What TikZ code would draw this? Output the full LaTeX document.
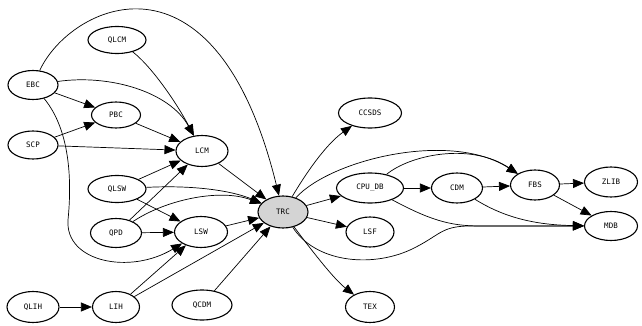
\documentclass[tikz,border=0pt]{standalone}
\usepackage{fontspec}
\newfontfamily\lblfont{DejaVu Sans Mono}
\usetikzlibrary{shapes.geometric,arrows.meta}
\tikzset{
  nd/.style={ellipse,draw=black,line width=1.1pt,inner sep=0pt,minimum width=50pt,minimum height=29pt,font=\lblfont\fontsize{7.5}{8}\selectfont},
  hl/.style={nd,fill=black!17},
  ed/.style={draw=black,line width=0.7pt,-{Triangle[length=11pt,width=9pt]}}
}
\begin{document}
\begin{tikzpicture}[x=1pt,y=-1pt]
\useasboundingbox (0,0) rectangle (642,326);
\node[nd] (EBC) at (33,85) {EBC};
\node[nd,minimum width=58pt,minimum height=27pt] (QLCM) at (117,40) {QLCM};
\node[nd,minimum width=49pt,minimum height=26pt] (PBC) at (116,115) {PBC};
\node[nd,minimum height=28pt] (SCP) at (33,145) {SCP};
\node[nd,minimum width=52pt,minimum height=31pt] (LCM) at (202,151) {LCM};
\node[nd,minimum width=58pt,minimum height=27pt] (QLSW) at (117,189) {QLSW};
\node[hl,minimum width=50pt,minimum height=32pt] (TRC) at (283,212) {TRC};
\node[nd,minimum width=51pt] (QPD) at (116,233) {QPD};
\node[nd,minimum width=53pt,minimum height=31pt] (LSW) at (201,232) {LSW};
\node[nd,minimum width=52pt,minimum height=31pt] (QLIH) at (33,307) {QLIH};
\node[nd,minimum width=47pt,minimum height=31pt] (LIH) at (116,307) {LIH};
\node[nd,minimum width=60pt,minimum height=30pt] (QCDM) at (202,305) {QCDM};
\node[nd,minimum width=63pt,minimum height=30pt] (CCSDS) at (370,113) {CCSDS};
\node[nd,minimum width=67pt,minimum height=30pt] (CPUDB) at (370,188) {CPU\_DB};
\node[nd,minimum width=51pt,minimum height=30pt] (CDM) at (457,188) {CDM};
\node[nd,minimum width=49pt,minimum height=30pt] (FBS) at (535,185) {FBS};
\node[nd,minimum width=53pt,minimum height=30pt] (ZLIB) at (611,182) {ZLIB};
\node[nd,minimum width=53pt,minimum height=29pt] (MDB) at (611,226) {MDB};
\node[nd,minimum width=48pt,minimum height=30pt] (LSF) at (370,232) {LSF};
\node[nd,minimum width=49pt,minimum height=31pt] (TEX) at (370,307) {TEX};

\draw[ed] (EBC) .. controls (70,5) and (215,-65) .. (TRC);
\draw[ed] (EBC) -- (PBC);
\draw[ed] (EBC) .. controls (110,74) and (170,92) .. (LCM);
\draw[ed] (EBC) .. controls (70,130) and (72,180) .. (68,220) .. controls (65,262) and (130,275) .. (LSW);
\draw[ed] (QLCM) .. controls (150,65) and (175,100) .. (LCM);
\draw[ed] (PBC) -- (LCM);
\draw[ed] (SCP) -- (PBC);
\draw[ed] (SCP) -- (LCM);
\draw[ed] (LCM) -- (TRC);
\draw[ed] (QLSW) -- (LCM);
\draw[ed] (QLSW) .. controls (190,185) and (230,190) .. (TRC);
\draw[ed] (QLSW) -- (LSW);
\draw[ed] (QPD) -- (LCM);
\draw[ed] (QPD) .. controls (165,200) and (220,188) .. (TRC);
\draw[ed] (QPD) -- (LSW);
\draw[ed] (LSW) -- (TRC);
\draw[ed] (LIH) -- (LSW);
\draw[ed] (LIH) -- (TRC);
\draw[ed] (QCDM) -- (TRC);
\draw[ed] (QLIH) -- (LIH);
\draw[ed] (TRC) .. controls (305,175) and (325,145) .. (CCSDS);
\draw[ed] (TRC) -- (CPUDB);
\draw[ed] (TRC) -- (LSF);
\draw[ed] (TRC) .. controls (315,255) and (335,280) .. (TEX);
\draw[ed] (TRC) .. controls (330,160) and (450,130) .. (FBS);
\draw[ed] (TRC) .. controls (315,262) and (370,268) .. (410,250) .. controls (440,236) and (440,226) .. (470,226) -- (MDB);
\draw[ed] (CPUDB) -- (CDM);
\draw[ed] (CPUDB) .. controls (410,155) and (470,142) .. (FBS);
\draw[ed] (CPUDB) .. controls (430,220) and (450,226) .. (480,226) -- (MDB);
\draw[ed] (CDM) .. controls (500,215) and (530,225) .. (MDB);
\draw[ed] (CDM) -- (FBS);
\draw[ed] (FBS) -- (ZLIB);
\draw[ed] (FBS) -- (MDB);
\end{tikzpicture}
\end{document}
